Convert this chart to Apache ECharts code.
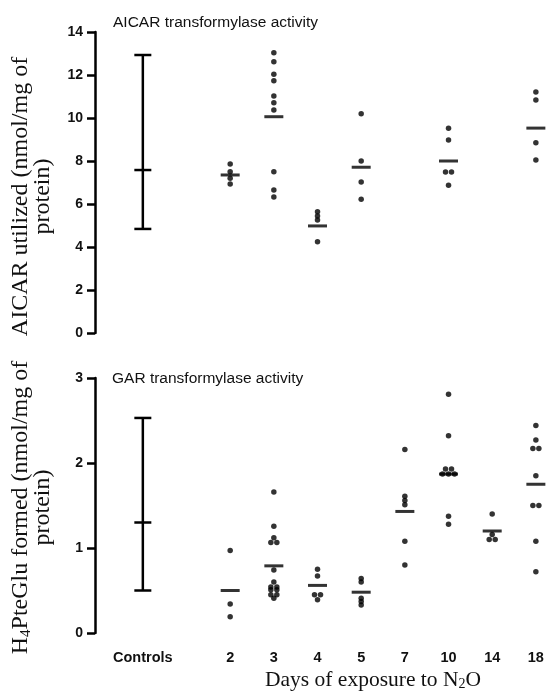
<!DOCTYPE html>
<html>
<head>
<meta charset="utf-8">
<script src="https://cdn.jsdelivr.net/npm/echarts@6/dist/echarts.min.js"></script>
<style>
  html, body { margin: 0; padding: 0; background: #fff; }
  #chart { width: 546px; height: 691px; }
</style>
</head>
<body>
<div id="chart"></div>
<script>
// categories along the bottom, the blank one leaves the gap after Controls
var categories = ['Controls', '', '2', '3', '4', '5', '7', '10', '14', '18'];
var aicarTicks = [0, 2, 4, 6, 8, 10, 12, 14];
var garTicks = [0, 1, 2, 3];

// AICAR transformylase activity, nmol/mg of protein
var aicarControl = [4.84, 7.58, 12.93]; // low, mean, high
var aicarDay2 = [7.86, 7.5, 7.2, 6.93];
var aicarDay3 = [13.04, 12.62, 12.03, 11.73, 11.02, 10.71, 10.37, 7.5, 6.65, 6.33];
var aicarDay4 = [5.64, 5.44, 5.26, 4.25];
var aicarDay5 = [10.2, 8.0, 7.02, 6.22];
var aicarDay10 = [9.52, 8.98, 7.49, 7.49, 6.87];
var aicarDay18 = [11.21, 10.84, 8.85, 8.05];
var aicarMeanDays = ['2', '3', '4', '5', '10', '18'];
var aicarMeans = [7.35, 10.06, 4.98, 7.71, 8.0, 9.53];

// GAR transformylase activity, nmol of H4PteGlu/mg of protein
var garControl = [0.5, 1.3, 2.53];
var garDay2 = [0.97, 0.34, 0.19];
var garDay3 = [1.66, 1.255, 1.12, 1.065, 1.065, 0.74, 0.6, 0.54, 0.54, 0.51, 0.51, 0.45, 0.45, 0.41];
var garDay4 = [0.75, 0.67, 0.45, 0.45, 0.39];
var garDay5 = [0.64, 0.6, 0.41, 0.37, 0.33];
var garDay7 = [2.16, 1.61, 1.56, 1.51, 1.08, 0.8];
var garDay10 = [2.81, 2.32, 1.93, 1.93, 1.87, 1.87, 1.87, 1.375, 1.28];
var garDay14 = [1.4, 1.16, 1.1, 1.1];
var garDay18 = [2.44, 2.27, 2.17, 2.17, 1.85, 1.5, 1.5, 1.08, 0.72];
var garMeanDays = ['2', '3', '4', '5', '7', '10', '14', '18'];
var garMeans = [0.5, 0.79, 0.56, 0.48, 1.43, 1.87, 1.2, 1.75];

// dots with the same value sit side by side
function dots(day, values) {
  var idx = categories.indexOf(day);
  var out = [];
  values.forEach(function (v, i) {
    var same = values.filter(function (w) { return w === v; }).length;
    var k = values.slice(0, i).filter(function (w) { return w === v; }).length;
    out.push({ value: [idx, v], symbolOffset: [(k - (same - 1) / 2) * 6, 0] });
  });
  return out;
}
function means(days, values) {
  return days.map(function (d, i) { return [categories.indexOf(d), values[i]]; });
}

var chartDom = document.getElementById('chart');
var myChart = echarts.init(chartDom);

function errorBar(params, api) {
  var lo = api.coord([api.value(0), api.value(1)]);
  var mid = api.coord([api.value(0), api.value(2)]);
  var hi = api.coord([api.value(0), api.value(3)]);
  var w = 8.5;
  var st = { stroke: '#000', lineWidth: 2.5 };
  return {
    type: 'group',
    children: [
      { type: 'line', shape: { x1: lo[0], y1: lo[1], x2: hi[0], y2: hi[1] }, style: st },
      { type: 'line', shape: { x1: lo[0] - w, y1: lo[1], x2: lo[0] + w, y2: lo[1] }, style: st },
      { type: 'line', shape: { x1: mid[0] - w, y1: mid[1], x2: mid[0] + w, y2: mid[1] }, style: st },
      { type: 'line', shape: { x1: hi[0] - w, y1: hi[1], x2: hi[0] + w, y2: hi[1] }, style: st }
    ]
  };
}

var tickFont = { fontFamily: 'Liberation Sans', fontSize: 14, fontWeight: 'bold', color: '#111' };
var serif = 'Liberation Serif';
var titleFont = { fontFamily: 'Liberation Sans', fontSize: 15.5, fontWeight: 'normal', color: '#111' };

var option = {
  animation: false,
  backgroundColor: '#fff',
  title: [
    { text: 'AICAR transformylase activity', left: 113, top: 15, padding: 0, textStyle: titleFont },
    { text: 'GAR transformylase activity', left: 112, top: 371, padding: 0, textStyle: titleFont }
  ],
  grid: [
    { left: 121, width: 436.7, top: 32, height: 301, outerBoundsMode: 'none' },
    { left: 121, width: 436.7, top: 378, height: 255, outerBoundsMode: 'none' }
  ],
  xAxis: [
    { type: 'category', gridIndex: 0, data: categories, boundaryGap: true,
      axisLine: { show: false }, axisTick: { show: false }, axisLabel: { show: false } },
    { type: 'category', gridIndex: 1, data: categories, boundaryGap: true,
      axisLine: { show: false }, axisTick: { show: false },
      axisLabel: { interval: 0, margin: 17, fontFamily: 'Liberation Sans', fontSize: 14.5, fontWeight: 'bold', color: '#111' } }
  ],
  yAxis: [
    { type: 'value', gridIndex: 0, min: 0, max: 14, interval: 2, offset: 26,
      name: 'AICAR utilized (nmol/mg of\nprotein)', nameLocation: 'middle', nameGap: 41,
      nameTextStyle: { fontFamily: serif, fontSize: 24, color: '#111', lineHeight: 22, padding: [0, 28, 0, 0] },
      axisLine: { show: true, lineStyle: { color: '#000', width: 2.5 } },
      axisTick: { show: true, length: 8, lineStyle: { color: '#000', width: 2.5 } },
      axisLabel: Object.assign({ margin: 12 }, tickFont),
      splitLine: { show: false } },
    { type: 'value', gridIndex: 1, min: 0, max: 3, interval: 1, offset: 26,
      name: '{n|H}{s|4}{n|PteGlu formed (nmol/mg of}\n{n|protein)}', nameLocation: 'middle', nameGap: 41,
      nameTextStyle: { fontFamily: serif, fontSize: 24, color: '#111', lineHeight: 22, padding: [0, 4, 0, 0],
        rich: { n: { fontFamily: serif, fontSize: 24, color: '#111', lineHeight: 22 },
                s: { fontFamily: serif, fontSize: 15, color: '#111', lineHeight: 22, padding: [10, 0, 0, 0] } } },
      axisLine: { show: true, lineStyle: { color: '#000', width: 2.5 } },
      axisTick: { show: true, length: 8, lineStyle: { color: '#000', width: 2.5 } },
      axisLabel: Object.assign({ margin: 12 }, tickFont),
      splitLine: { show: false } }
  ],
  graphic: [
    { type: 'text', left: 265, top: 669,
      style: { text: '{n|Days of exposure to N}{s|2}{n|O}', fill: '#111',
        rich: { n: { fontFamily: serif, fontSize: 21.5, fill: '#111' },
                s: { fontFamily: serif, fontSize: 14, fill: '#111', padding: [9, 0, 0, 0] } } } }
  ],
  series: [
    { type: 'custom', xAxisIndex: 0, yAxisIndex: 0, renderItem: errorBar,
      data: [[0, aicarControl[0], aicarControl[1], aicarControl[2]]] },
    { type: 'custom', xAxisIndex: 1, yAxisIndex: 1, renderItem: errorBar,
      data: [[0, garControl[0], garControl[1], garControl[2]]] },
    { type: 'scatter', xAxisIndex: 0, yAxisIndex: 0, symbol: 'circle', symbolSize: 5.5,
      itemStyle: { color: '#000' },
      data: [].concat(dots('2', aicarDay2), dots('3', aicarDay3), dots('4', aicarDay4),
        dots('5', aicarDay5), dots('10', aicarDay10), dots('18', aicarDay18)) },
    { type: 'scatter', xAxisIndex: 0, yAxisIndex: 0, symbol: 'rect', symbolSize: [19, 3],
      itemStyle: { color: '#000' }, data: means(aicarMeanDays, aicarMeans) },
    { type: 'scatter', xAxisIndex: 1, yAxisIndex: 1, symbol: 'circle', symbolSize: 5.5,
      itemStyle: { color: '#000' },
      data: [].concat(dots('2', garDay2), dots('3', garDay3), dots('4', garDay4), dots('5', garDay5),
        dots('7', garDay7), dots('10', garDay10), dots('14', garDay14), dots('18', garDay18)) },
    { type: 'scatter', xAxisIndex: 1, yAxisIndex: 1, symbol: 'rect', symbolSize: [19, 3],
      itemStyle: { color: '#000' }, data: means(garMeanDays, garMeans) }
  ]
};

if (option && typeof option === 'object') {
  myChart.setOption(option);
}
</script>
</body>
</html>
